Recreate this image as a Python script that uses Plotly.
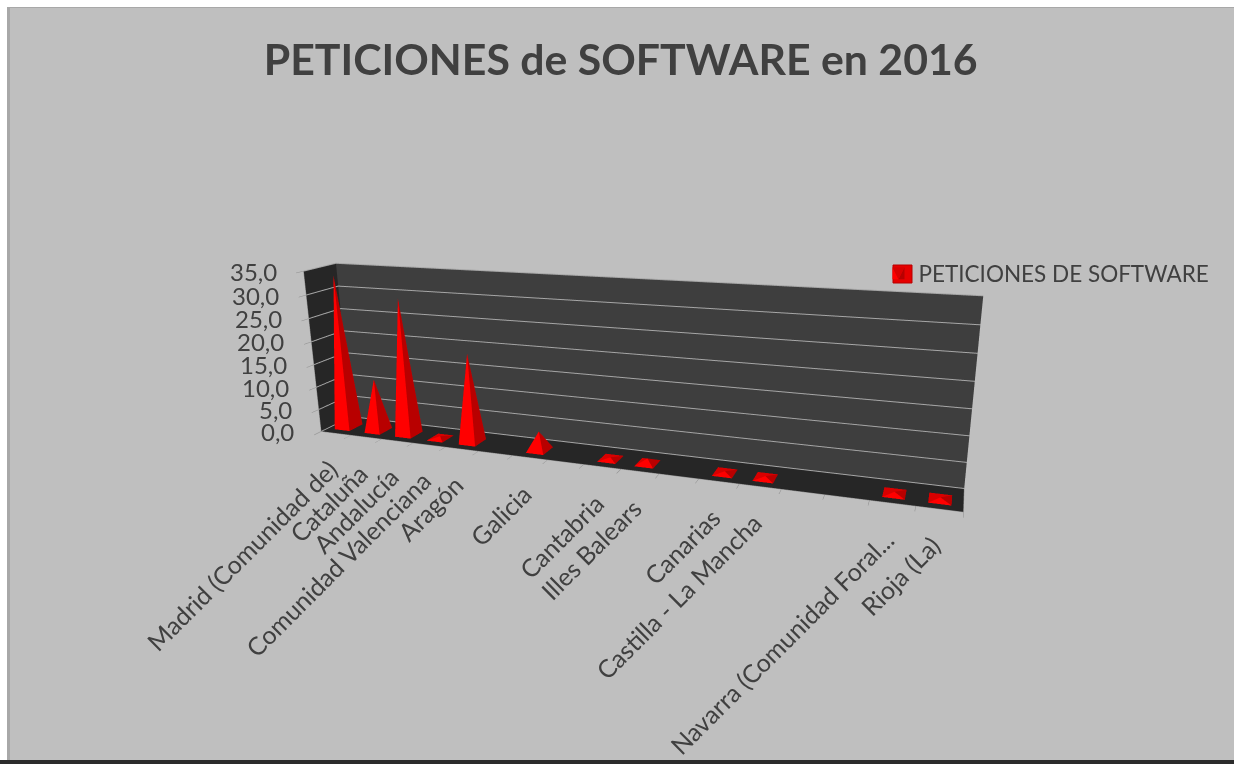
import plotly.graph_objects as go

categories = ["Madrid (Comunidad de)", "Cataluña", "Andalucía", "Comunidad Valenciana", "Aragón", "",
              "Galicia", "", "Cantabria", "Illes Balears", "", "Canarias", "Castilla - La Mancha", "", "",
              "Navarra (Comunidad Foral...", "Rioja (La)"]
values = [33.5, 11.5, 29.5, 0.4, 19, None, 4, None, 0.3, 1, None, 0.3, 0.3, None, None, 0.3, 0.3]
z_ticks = [0, 5, 10, 15, 20, 25, 30, 35]

W, H = 1234, 764
TEXT = "#404040"
n = len(categories)

# pyramids, one 5-vertex mesh piece per value
xs, ys, zs, i, j, k, colors = [], [], [], [], [], [], []
for c, v in enumerate(values):
    if v is None:
        continue
    b = len(xs)
    xs += [c+.25, c+.75, c+.75, c+.25, c+.5]
    ys += [.2, .2, .64, .64, .42]
    zs += [0, 0, 0, 0, v]
    i += [b, b+1, b+2, b+3]
    j += [b+1, b+2, b+3, b]
    k += [b+4, b+4, b+4, b+4]
    colors += ["#ff0000", "#b80000", "#d80000", "#d80000"]

fig = go.Figure()
fig.add_trace(go.Mesh3d(x=xs, y=ys, z=zs, i=i, j=j, k=k, facecolor=colors, flatshading=True,
                        lighting=dict(ambient=1, diffuse=0, specular=0, fresnel=0),
                        name="PETICIONES DE SOFTWARE", showlegend=True, hoverinfo="skip"))

cat_labels = [dict(x=c+.5, y=0, z=0, text=t, textangle=-45, showarrow=False, xanchor="right", yanchor="top",
                   font=dict(family="Lato", size=25, color=TEXT), xshift=10, yshift=-18)
              for c, t in enumerate(categories) if t]
z_labels = [dict(x=0, y=0, z=v, text=f"{v:.1f}".replace(".", ","), showarrow=False, xanchor="right",
                 font=dict(family="Lato", size=24, color=TEXT), xshift=-25)
            for v in z_ticks]

fig.update_layout(
    width=W, height=H, margin=dict(l=0, r=0, t=0, b=0), paper_bgcolor="white",
    font=dict(family="Lato", color=TEXT),
    title=dict(text="<b>PETICIONES de SOFTWARE en 2016</b>", x=.503, y=.921, xanchor="center", yanchor="middle",
               font=dict(family="Lato", size=42.8, color=TEXT)),
    legend=dict(x=.7119, y=.6417, xanchor="left", yanchor="middle", bgcolor="rgba(0,0,0,0)",
                font=dict(family="Lato", size=22.5, color=TEXT)),
    shapes=[
        dict(type="rect", xref="paper", yref="paper", x0=7/W, x1=1, y0=4/H, y1=1-7/H, fillcolor="#a8a8a8",
             line_width=0, layer="below"),
        dict(type="rect", xref="paper", yref="paper", x0=10/W, x1=1, y0=4/H, y1=1-8/H, fillcolor="#bfbfbf",
             line_width=0, layer="below"),
        dict(type="rect", xref="paper", yref="paper", x0=0, x1=1, y0=0, y1=4/H, fillcolor="#2b2b2b",
             line_width=0, layer="below"),
        dict(type="rect", xref="paper", yref="paper", x0=893/W, x1=912/W, y0=1-283/H, y1=1-265/H,
             fillcolor="#e60000", line=dict(color="#b80000", width=1), layer="below"),
    ],
    scene=dict(
        domain=dict(x=[0, 1], y=[0, 1]),
        aspectmode="manual", aspectratio=dict(x=2, y=0.1637, z=0.5348),
        camera=dict(eye=dict(x=0.9421, y=-2.4390, z=0.7327), center=dict(x=0.1234, y=-0.2743, z=0.0572),
                    up=dict(x=-0.0215, y=0.0971, z=1), projection=dict(type="perspective")),
        xaxis=dict(range=[0, n], tickvals=list(range(n+1)), showticklabels=False, ticks="outside", ticklen=9,
                   tickcolor="#8c8c8c", showgrid=False, zeroline=False, showline=True, linecolor="#8c8c8c",
                   showbackground=True, backgroundcolor="#262626", title=""),
        yaxis=dict(range=[0, 1], showticklabels=False, ticks="", showgrid=False, zeroline=False, showline=True,
                   linecolor="#8c8c8c", showbackground=True, backgroundcolor="#3e3e3e", title="", tickvals=[]),
        zaxis=dict(range=[0, 35], tickvals=z_ticks, showticklabels=False, ticks="outside", ticklen=9,
                   tickcolor="#8c8c8c", gridcolor="#a6a6a6", gridwidth=2, zeroline=False,
                   showline=True, linecolor="#8c8c8c", showbackground=True, backgroundcolor="#262626", title=""),
        annotations=cat_labels+z_labels,
    ),
)
fig.write_html("out.html", config=dict(displayModeBar=False), post_script="document.body.style.margin='0';")
